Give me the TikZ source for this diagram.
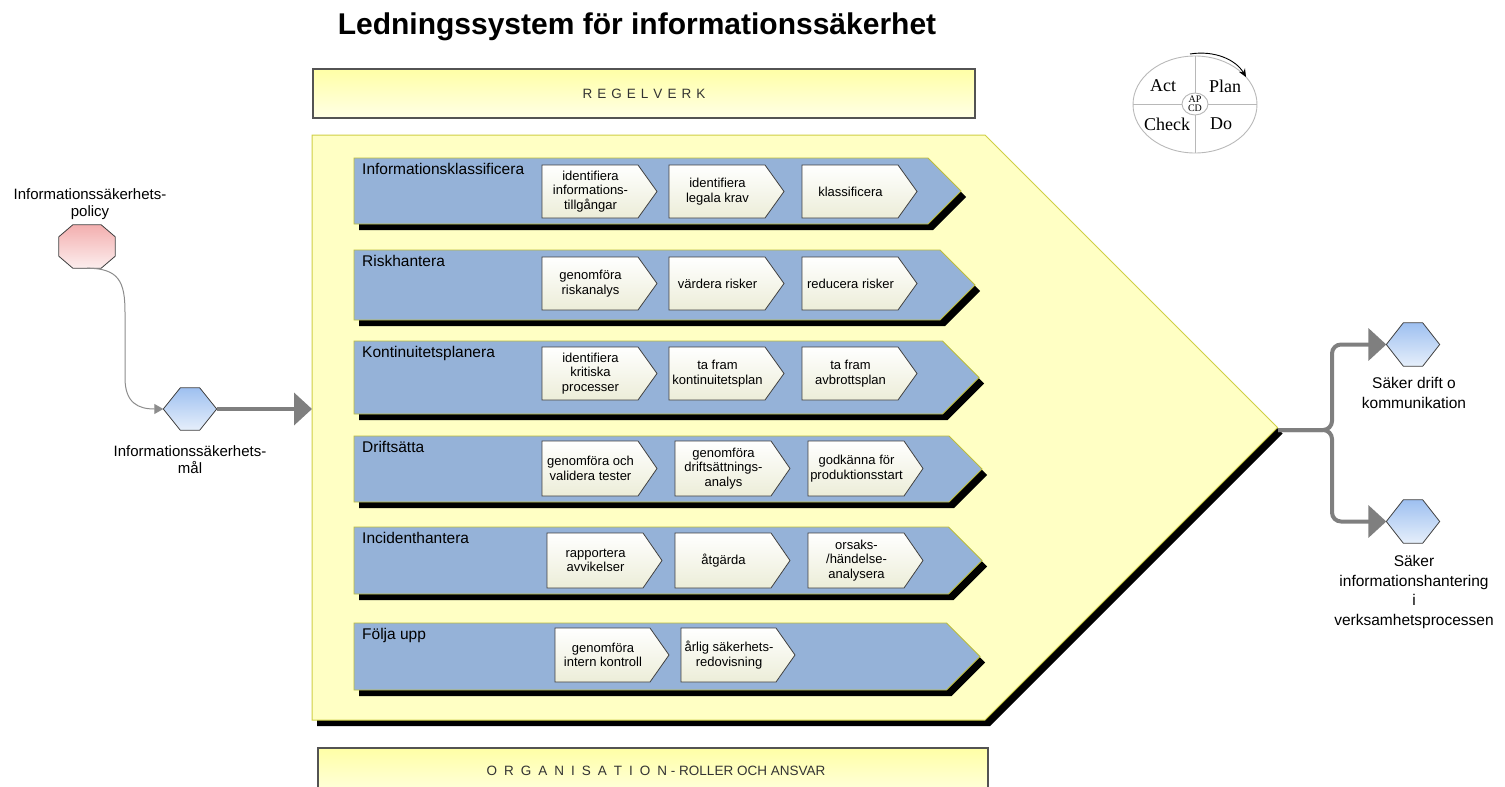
\documentclass[tikz,border=0pt]{standalone}
\usepackage{fontspec}
\setmainfont{Liberation Sans}
\newfontfamily\pdcafont{Liberation Serif}
\usetikzlibrary{arrows.meta}
\definecolor{penta}{HTML}{FFFFC4}
\definecolor{pentaedge}{HTML}{CFCF45}
\definecolor{bandc}{HTML}{95B2D8}
\definecolor{bandedge}{HTML}{BDBD3A}
\definecolor{conn}{HTML}{7F7F7F}
\definecolor{boxedge}{HTML}{404040}
\definecolor{chevbot}{HTML}{ECEDD8}
\definecolor{ytop}{HTML}{FFFFA6}
\definecolor{ybot}{HTML}{FFFFE6}
\definecolor{pinktop}{HTML}{F3AFAF}
\definecolor{pinkbot}{HTML}{FCEEEE}
\definecolor{bluetop}{HTML}{9EC0F0}
\definecolor{bluebot}{HTML}{E6EFFB}
\definecolor{pdcagray}{HTML}{B8B8B8}
\tikzset{
  chevfill/.style={draw=boxedge, line width=0.8pt, top color=white, bottom color=chevbot},
  chevtext/.style={font=\fontsize{13}{14.5}\selectfont, align=center, inner sep=0pt},
  bandfill/.style={fill=bandc, draw=bandedge, line width=0.8pt},
  bandlabel/.style={font=\fontsize{15.5}{17}\selectfont, anchor=north west, inner sep=0pt},
  lbl/.style={font=\fontsize{15}{17}\selectfont, align=center, inner sep=0pt},
  rlbl/.style={font=\fontsize{15.5}{19.5}\selectfont, align=center, inner sep=0pt},
  shapebox/.style={inner sep=0pt, draw=none},
  hexfill/.style={draw=boxedge, line width=0.8pt, top color=bluetop, bottom color=bluebot},
  octfill/.style={draw=boxedge, line width=0.8pt, top color=pinktop, bottom color=pinkbot},
  thickconn/.style={draw=conn, line width=4pt, -{Triangle[length=18pt,width=32pt]}},
  thinconn/.style={draw=conn!90, line width=1pt, -{Triangle[length=9pt,width=10pt]}},
  ybox/.style={draw=boxedge!90, line width=1.2pt, top color=ytop, bottom color=ybot},
  boxtext/.style={font=\fontsize{13.5}{16}\selectfont, text=black!80, inner sep=0pt},
  pdcaline/.style={draw=pdcagray, line width=0.9pt},
  pdcatext/.style={font=\pdcafont\fontsize{18}{20}\selectfont, inner sep=0pt},
  pdcasmall/.style={font=\pdcafont\fontsize{10}{10}\selectfont, inner sep=0pt},
}
\newcommand{\chevb}[6]{%
  \path[chevfill] (#2,#3) -- ++({#4-19},0) -- ++(19,{#5/2}) -- ++(-19,{#5/2}) -- ++({-#4+19},0) -- cycle;
  \node[chevtext] (#1) at ({#2+#4/2-9},{#3+#5/2}) {#6};
}
\newcommand{\bandb}[5]{%
  \fill[black, shift={(5,6)}] (354,#2) -- ({#4-(#3-#2)/2},#2) -- (#4,{(#2+#3)/2}) -- ({#4-(#3-#2)/2},#3) -- (354,#3) -- cycle;
  \path[bandfill] (354,#2) -- ({#4-(#3-#2)/2},#2) -- (#4,{(#2+#3)/2}) -- ({#4-(#3-#2)/2},#3) -- (354,#3) -- cycle;
  \node[bandlabel] (#1) at (362,{#2+5}) {#5};
}
\newcommand{\lsp}{\hspace{5pt}}
\newcommand{\osp}{\hspace{7pt}}
\begin{document}
\begin{tikzpicture}[x=1pt,y=-1pt]
\useasboundingbox (0,0) rectangle (1505,787);

% title
\node[font=\bfseries\fontsize{30}{34}\selectfont, inner sep=0pt] (title) at (637,27) {Ledningssystem för informationssäkerhet};

% regelverk
\path[ybox] (313,69) rectangle (975,118);
\node[boxtext] (regel) at (644,94) {R\lsp E\lsp G\lsp E\lsp L\lsp V\lsp E\lsp R\lsp K};

% organisation
\path[ybox] (318,748) rectangle (988,800);
\node[boxtext] (org) at (656,771) {O\osp R\osp G\osp A\osp N\osp I\osp S\osp A\osp T\osp I\osp O\osp N - ROLLER OCH ANSVAR};

% big pentagon
\fill[black, shift={(5,6)}] (312,135) -- (985,135) -- (1277.5,427.5) -- (985,720) -- (312,720) -- cycle;
\path[fill=penta, draw=pentaedge, line width=1pt] (312,135) -- (985,135) -- (1277.5,427.5) -- (985,720) -- (312,720) -- cycle;
\coordinate (pleft) at (312,409);
\coordinate (ptip) at (1278,430);

% bands
\bandb{b1}{158}{224}{961}{Informationsklassificera}
\bandb{b2}{250}{320}{975}{Riskhantera}
\bandb{b3}{341}{414}{979}{Kontinuitetsplanera}
\bandb{b4}{436}{502}{982}{Driftsätta}
\bandb{b5}{527}{594}{982}{Incidenthantera}
\bandb{b6}{623}{690}{980}{Följa upp}

% chevrons
\chevb{c11}{542}{165}{115}{53}{identifiera\\informations-\\tillgångar}
\chevb{c12}{669}{165}{115}{53}{identifiera\\legala krav}
\chevb{c13}{802}{165}{115}{53}{klassificera}
\chevb{c21}{542}{257}{115}{53}{genomföra\\riskanalys}
\chevb{c22}{669}{257}{115}{53}{värdera risker}
\chevb{c23}{802}{257}{115}{53}{reducera risker}
\chevb{c31}{542}{347}{115}{53}{identifiera\\kritiska\\processer}
\chevb{c32}{669}{347}{115}{53}{ta fram\\kontinuitetsplan}
\chevb{c33}{802}{347}{115}{53}{ta fram\\avbrottsplan}
\chevb{c41}{542}{441}{115}{55}{genomföra och\\validera tester}
\chevb{c42}{675}{441}{115}{55}{genomföra\\driftsättnings-\\analys}
\chevb{c43}{808}{441}{115}{55}{godkänna för\\produktionsstart}
\chevb{c51}{547}{533}{115}{55}{rapportera\\avvikelser}
\chevb{c52}{675}{533}{115}{55}{åtgärda}
\chevb{c53}{808}{533}{115}{55}{orsaks-\\/händelse-\\analysera}
\chevb{c61}{555}{628}{114}{54}{genomföra\\intern kontroll}
\chevb{c62}{681}{628}{114}{54}{årlig säkerhets-\\redovisning}

% policy octagon
\node[shapebox, minimum width=56pt, minimum height=43pt] (pol) at (87,246.5) {};
\path[octfill] ([xshift=14pt]pol.north west) -- ([xshift=-14pt]pol.north east) -- ([yshift=-12pt]pol.north east) -- ([yshift=12pt]pol.south east) -- ([xshift=-14pt]pol.south east) -- ([xshift=14pt]pol.south west) -- ([yshift=12pt]pol.south west) -- ([yshift=-12pt]pol.north west) -- cycle;
\node[lbl] (pollbl) at (90,204) {Informationssäkerhets-\\policy};

% mål hexagon
\node[shapebox, minimum width=53pt, minimum height=42pt] (mal) at (190,409) {};
\path[hexfill] (mal.west) -- ([xshift=17pt]mal.north west) -- ([xshift=-17pt]mal.north east) -- (mal.east) -- ([xshift=-17pt]mal.south east) -- ([xshift=17pt]mal.south west) -- cycle;
\node[lbl] (mallbl) at (190,460) {Informationssäkerhets-\\mål};

% outputs
\node[shapebox, minimum width=53pt, minimum height=43pt] (out1) at (1413,344.5) {};
\path[hexfill] (out1.west) -- ([xshift=17pt]out1.north west) -- ([xshift=-17pt]out1.north east) -- (out1.east) -- ([xshift=-17pt]out1.south east) -- ([xshift=17pt]out1.south west) -- cycle;
\node[rlbl] (out1lbl) at (1414,393) {Säker drift o\\kommunikation};
\node[shapebox, minimum width=53pt, minimum height=43pt] (out2) at (1413,521.5) {};
\path[hexfill] (out2.west) -- ([xshift=17pt]out2.north west) -- ([xshift=-17pt]out2.north east) -- (out2.east) -- ([xshift=-17pt]out2.south east) -- ([xshift=17pt]out2.south west) -- cycle;
\node[rlbl] (out2lbl) at (1414,592) {Säker\\informationshantering\\i\\verksamhetsprocessen};

% connectors
\draw[thinconn] (pol.south) .. controls +(32,0) and +(0,-30) .. (125,312) -- (125,378) .. controls +(0,25) and +(-25,0) .. (mal.west);
\draw[thickconn] (mal.east) -- (pleft);
\draw[thickconn, rounded corners=9pt] (ptip) -- (1332,430) |- (out1.west);
\draw[thickconn, rounded corners=9pt] (ptip) -- (1332,430) |- (out2.west);

% PDCA
\draw[pdcaline] (1195,104.5) ellipse [x radius=62pt, y radius=48.5pt];
\draw[pdcaline] (1195,56) -- (1195,153);
\draw[pdcaline] (1133,104) -- (1257,104);
\path[pdcaline, fill=white] (1195,104) ellipse [x radius=13pt, y radius=11pt];
\node[pdcatext] (act) at (1163,86) {Act};
\node[pdcatext] (plan) at (1225,86) {Plan};
\node[pdcatext] (check) at (1167,124) {Check};
\node[pdcatext] (do) at (1221,124) {Do};
\node[pdcasmall] (ap) at (1195,99.5) {AP};
\node[pdcasmall] (cd) at (1195,108.5) {CD};
\draw[black, line width=0.9pt, -{Stealth[length=8pt,width=7pt]}] (1190,54) .. controls (1215,50) and (1236,60) .. (1246,77);
\end{tikzpicture}
\end{document}
